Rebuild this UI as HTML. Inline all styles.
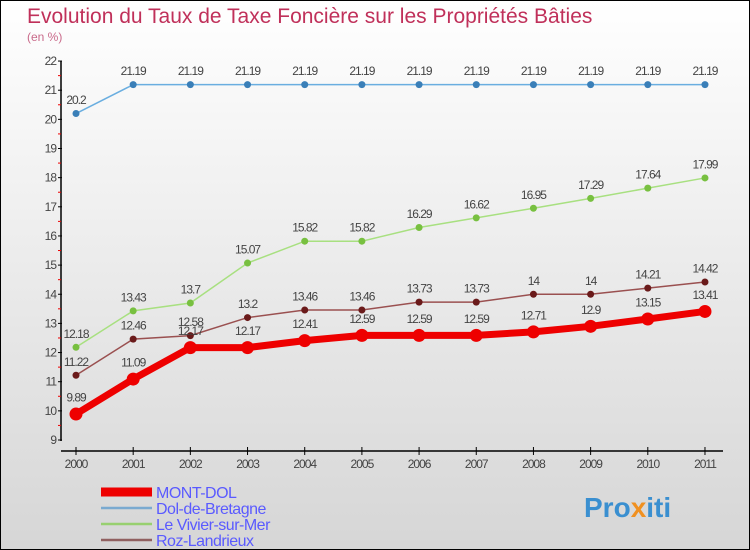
<!DOCTYPE html>
<html><head><meta charset="utf-8"><style>
body{margin:0}
#c{width:750px;height:550px;position:relative;box-sizing:border-box;border:1px solid #000;background:linear-gradient(#ffffff,#d6d6d6);font-family:"Liberation Sans",sans-serif;overflow:hidden}
</style></head><body>
<div id="c">
<svg id="s" width="748" height="548" style="position:absolute;left:0;top:0"></svg>
</div>
<script>
const years=["2000","2001","2002","2003","2004","2005","2006","2007","2008","2009","2010","2011"];
const mont=[9.89,11.09,12.17,12.17,12.41,12.59,12.59,12.59,12.71,12.9,13.15,13.41];
const dol=[20.2,21.19,21.19,21.19,21.19,21.19,21.19,21.19,21.19,21.19,21.19,21.19];
const viv=[12.18,13.43,13.7,15.07,15.82,15.82,16.29,16.62,16.95,17.29,17.64,17.99];
const roz=[11.22,12.46,12.58,13.2,13.46,13.46,13.73,13.73,14,14,14.21,14.42];
const yTicks=[9,10,11,12,13,14,15,16,17,18,19,20,21,22];
const ns="http://www.w3.org/2000/svg",s=document.getElementById('s');
const X=i=>75+i*57.18, Y=v=>439-(v-9)*29.15;
function el(t,a,txt,p){const e=document.createElementNS(ns,t);for(const k in a)e.setAttribute(k,a[k]);if(txt!==undefined)e.textContent=txt;(p||s).appendChild(e);return e;}
let e;
e=el('text',{x:26,y:22,'font-size':21,fill:'#c0305a'},'Evolution du Taux de Taxe Foncière sur les Propriétés Bâties');

e=el('text',{x:26,y:40,'font-size':12,fill:'#c96a8a'},'(en %)');

e=el('line',{x1:60,y1:60,x2:60,y2:440,stroke:'#000','stroke-width':1.5});

yTicks.forEach(v=>{el('line',{x1:57,x2:61,y1:Y(v),y2:Y(v),stroke:'#000'});
 if(v<22)el('line',{x1:57,x2:60,y1:Y(v+0.5),y2:Y(v+0.5),stroke:'#e00'});
 e=el('text',{x:55,y:Y(v)+4,'text-anchor':'end','font-size':12,fill:'#444','letter-spacing':'-1'},v);
 });
e=el('line',{x1:60,y1:450,x2:722,y2:450,stroke:'#000','stroke-width':1.5});

years.forEach((y,i)=>{el('line',{x1:X(i),x2:X(i),y1:446,y2:454,stroke:'#000'});
 e=el('text',{x:X(i),y:467,'text-anchor':'middle','font-size':12,fill:'#444','letter-spacing':'-1'},y);
 });
function series(d,name,col,dot,w,r){
 e=el('polyline',{points:d.map((v,i)=>X(i)+','+Y(v)).join(' '),fill:'none',stroke:col,'stroke-width':w});
 
 d.forEach((v,i)=>{e=el('circle',{cx:X(i),cy:Y(v),r:r,fill:dot});
  
  e=el('text',{x:X(i),y:Y(v)-(r+6),'text-anchor':'middle','font-size':12,fill:'#444','letter-spacing':'-1'},v);
  });
}
series(dol,'dol-de-bretagne','#6aaee0','#3a7fb8',1.5,3.5);
series(viv,'le-vivier-sur-mer','#a8e080','#78c040',1.5,3.5);
series(roz,'roz-landrieux','#9a5050','#6a1a1a',1.5,3.5);
series(mont,'mont-dol','#ee0000','#ee0000',7,6.5);
const leg=[["MONT-DOL","#ee0000",9],["Dol-de-Bretagne","#7aaad0",2.5],["Le Vivier-sur-Mer","#98d070",2.5],["Roz-Landrieux","#906060",2.5]];
leg.forEach((l,i)=>{const y=491+i*16;
 e=el('line',{x1:100,x2:151,y1:y,y2:y,stroke:l[1],'stroke-width':l[2]});
 
 e=el('text',{x:155,y:y+6,'font-size':16,fill:'#5a5aff','letter-spacing':'-0.5'},l[0]);
 });
e=el('text',{x:583,y:516,'font-size':28,'font-weight':'bold',fill:'#3a8fd0'});

el('tspan',{},'Pro',e);el('tspan',{fill:'#f09020'},'x',e);el('tspan',{},'iti',e);
</script>
</body></html>
